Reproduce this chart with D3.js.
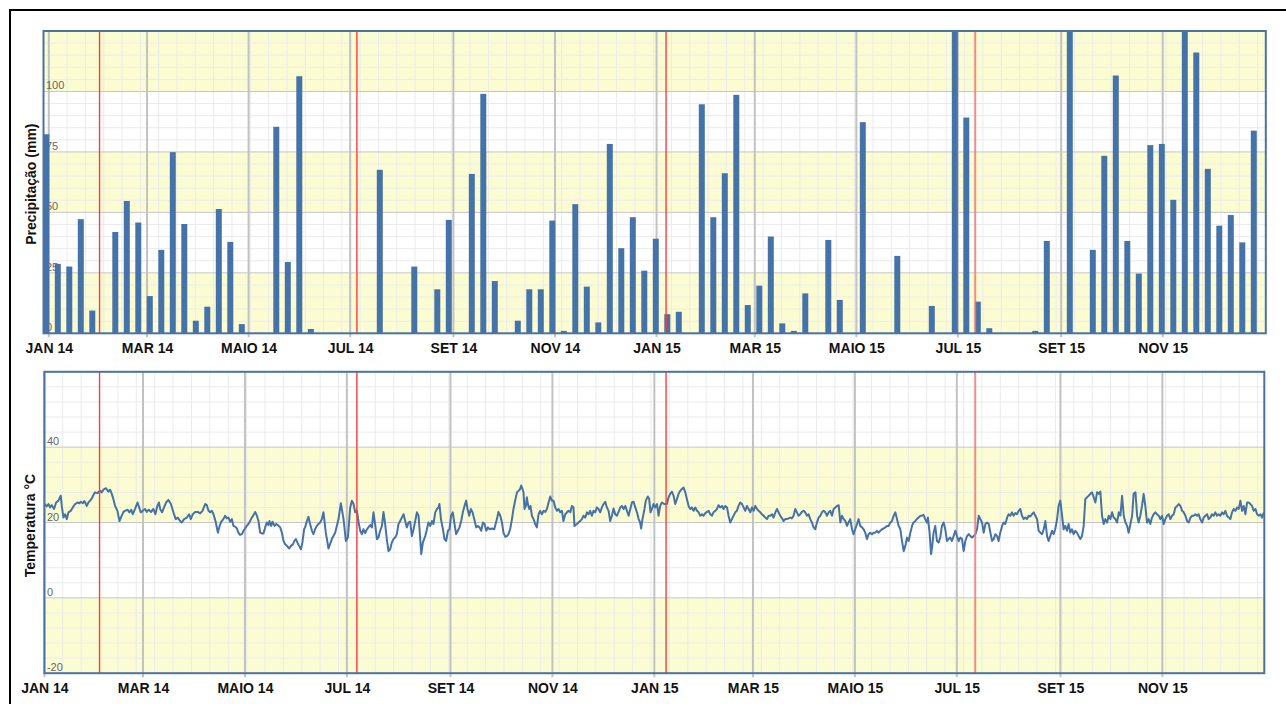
<!DOCTYPE html>
<html><head><meta charset="utf-8">
<script src="https://cdn.jsdelivr.net/npm/d3@7"></script>
<style>
html,body{margin:0;padding:0;background:#fff;}
svg{display:block;font-family:"Liberation Sans",Arial,Helvetica,sans-serif;}
</style></head><body>
<svg id="chart" width="1286" height="704"></svg>
<script>
// ---------------- DATA ----------------
const monthTickDates = ["2014-01-01","2014-03-01","2014-05-01","2014-07-01","2014-09-01","2014-11-01","2015-01-01","2015-03-01","2015-05-01","2015-07-01","2015-09-01","2015-11-01"];
const monthTickLabels = ["JAN 14","MAR 14","MAIO 14","JUL 14","SET 14","NOV 14","JAN 15","MAR 15","MAIO 15","JUL 15","SET 15","NOV 15"];
const eventDates = ["2014-02-03","2014-07-07","2015-01-08","2015-07-12"];
const precipTicks = [0,25,50,75,100];
const tempTicks = [-20,0,20,40];
const precipTitle = "Precipitação (mm)";
const tempTitle = "Temperatura °C";

// weekly precipitation totals (mm), one per bar, left to right
const precipValues = [
 82.3,28.7,27.6,47.2,9.4,0,41.9,54.7,45.8,15.4,
 34.5,74.9,45.2,5.2,11.0,51.4,37.8,3.8,0,0,
 85.4,29.5,106.3,1.8,0,0,0,0,0,67.6,
 0,0,27.6,0,18.2,46.9,0,65.9,99.0,21.6,
 0,5.2,18.2,18.2,46.6,1.0,53.4,19.3,4.5,78.3,
 35.2,48.0,25.9,39.1,7.9,8.9,0,94.7,48.0,66.2,
 98.6,11.7,19.7,40.0,4.1,1.0,16.5,0,38.6,13.8,
 0,87.3,0,0,32.0,0,0,11.3,0,140,
 89.2,13.1,2.1,0,0,0,1.0,38.2,0,140,
 0,34.5,73.4,106.6,38.2,24.7,77.8,78.3,55.2,140,
 116.1,68.0,44.5,48.9,37.6,83.8
];

// temperature: [days since 2014-01-01, °C]
const tempSeries = [
[0,24.9],[1.4,24.3],[2.4,24.9],[3.4,24.0],[4.4,24.6],[5.8,23.6],[7.0,25.3],[8.4,25.8],[9.8,27.1],[10.4,24.4],[11.4,21.3],[12.4,22.2],[13.4,20.9],[14.4,22.7],[15.8,23.1],[17.0,24.0],[18.4,24.9],[19.8,25.3],[20.9,25.1],[21.8,25.5],[23.0,25.1],[23.9,25.7],[25.4,24.4],[26.3,25.3],[27.4,25.8],[28.4,26.4],[29.3,27.3],[30.3,28.0],[31.7,27.8],[33.3,28.4],[34.4,28.0],[35.3,28.7],[36.9,29.1],[38.3,28.2],[39.3,28.7],[40.3,27.6],[41.3,26.2],[42.3,24.4],[43.7,23.1],[44.9,20.4],[46.3,21.8],[47.3,22.8],[48.3,23.1],[49.7,23.4],[50.9,22.7],[51.9,23.4],[52.9,22.2],[54.3,23.7],[55.7,25.3],[56.7,24.0],[57.7,22.7],[58.9,23.1],[60.3,23.6],[61.3,22.8],[62.5,23.4],[63.9,22.8],[65.2,23.6],[66.4,22.2],[67.6,24.4],[68.5,25.3],[69.3,23.6],[70.4,22.7],[71.6,24.0],[72.8,25.3],[74.2,26.0],[75.7,24.9],[77.2,22.7],[78.6,20.9],[79.8,21.3],[81.2,20.4],[82.2,20.0],[83.6,20.9],[85.2,21.3],[86.6,22.2],[87.6,20.9],[88.8,22.2],[90.2,22.8],
[91.8,22.8],[93.2,22.4],[94.6,23.1],[96.2,24.9],[97.2,24.6],[98.2,23.1],[99.2,22.7],[100.2,23.1],[101.2,22.2],[102.6,20.0],[103.8,17.3],[104.6,18.7],[105.8,20.2],[107.1,20.9],[108.2,21.8],[109.2,21.1],[110.1,21.3],[111.2,20.2],[112.2,20.9],[113.1,19.1],[114.1,18.9],[115.2,18.4],[116.1,17.3],[117.1,16.7],[118.2,16.9],[119.1,17.8],[120.1,18.4],[121.1,19.1],[122.1,19.6],[123.1,20.4],[124.1,21.3],[125.1,21.9],[126.1,22.8],[127.1,21.9],[128.1,20.4],[129.1,17.3],[130.1,17.1],[131.1,17.1],[132.1,18.7],[133.1,20.0],[134.1,19.3],[134.7,20.4],[135.7,19.1],[136.5,20.2],[137.7,19.1],[138.7,19.6],[139.7,19.3],[141.1,18.7],[142.1,17.3],[143.1,15.1],[144.1,14.2],[145.1,13.8],[146.5,13.1],[147.5,13.8],[148.7,14.2],[149.6,15.1],[150.5,15.6],[151.4,14.7],[152.4,13.8],[153.5,12.9],[154.4,14.7],[155.4,18.2],[156.0,18.7],[157.1,20.4],[158.0,21.5],[159.0,19.6],[160.1,17.8],[161.0,16.9],[162.0,18.2],[163.0,19.1],[164.0,19.6],[165.0,20.0],[166.0,20.9],[167.0,22.7],[168.4,17.3],[170.0,13.1],[172.0,15.6],[174.0,17.3],[176.0,20.9],[177.4,25.1],[179.0,20.9],[180.4,15.1],[181.6,16.0],[183.0,24.0],
[184.0,25.8],[185.0,24.9],[186.0,22.7],[187.0,23.1],[188.0,20.0],[189.0,17.8],[190.0,16.9],[190.9,18.2],[192.0,17.2],[193.0,18.2],[193.9,18.7],[195.0,19.3],[196.0,18.7],[196.9,22.7],[197.9,19.6],[199.0,15.6],[199.9,16.0],[200.9,17.8],[202.0,19.1],[202.9,22.8],[203.9,19.6],[204.9,15.6],[205.9,12.4],[206.9,12.9],[207.9,14.7],[208.9,15.6],[209.9,16.0],[210.9,16.9],[211.9,19.6],[212.9,20.4],[213.9,21.3],[214.9,22.2],[215.9,20.4],[216.9,18.7],[217.9,20.0],[218.9,20.2],[219.9,16.4],[220.9,18.2],[221.9,20.4],[222.9,22.7],[223.9,21.8],[224.9,15.6],[225.5,11.6],[226.5,14.7],[227.9,16.4],[228.9,18.2],[229.8,20.0],[230.9,19.1],[231.9,20.4],[232.8,19.6],[233.9,22.7],[234.9,23.6],[235.8,24.0],[236.4,24.9],[237.3,20.9],[238.5,18.2],[239.4,15.6],[240.4,15.1],[241.5,17.8],[242.4,18.2],[243.4,21.8],[244.4,22.7],[245.4,19.6],[246.4,16.9],[247.4,17.8],[248.4,18.7],[249.4,20.4],[250.4,22.7],[251.4,24.4],[252.4,25.8],[253.2,23.6],[254.2,21.8],[255.2,23.6],[256.2,22.7],[257.2,20.9],[258.4,18.7],[259.4,19.1],[260.4,18.7],[261.4,17.8],[262.4,20.0],[263.4,19.6],[264.4,17.8],[265.4,18.7],[266.4,18.2],[267.8,18.4],[269.2,18.2],[270.8,20.9],[271.7,22.8],[272.8,21.8],[273.8,20.0],[274.7,17.3],[275.8,16.2],[276.8,16.4],[277.7,16.9],
[278.7,18.2],[279.8,20.9],[280.7,23.6],[281.7,25.8],[282.8,28.0],[283.7,28.4],[284.7,28.9],[285.3,29.8],[286.1,28.9],[286.7,28.0],[287.3,23.6],[288.1,24.4],[288.7,26.7],[289.3,24.9],[290.1,23.6],[290.9,24.4],[291.7,21.8],[292.7,20.9],[293.7,19.6],[294.7,18.7],[295.7,22.2],[296.7,23.1],[297.7,22.2],[298.7,23.1],[299.7,22.8],[300.7,23.6],[301.7,25.3],[302.7,26.9],[303.7,25.8],[304.7,25.8],[305.7,24.0],[306.7,23.1],[307.7,23.6],[308.7,22.7],[309.7,23.1],[310.6,20.4],[311.7,22.2],[312.7,22.7],[313.6,23.1],[314.7,22.7],[315.7,24.4],[316.6,24.0],[317.2,19.1],[318.7,19.6],[319.6,20.0],[320.6,20.4],[321.7,20.9],[322.6,21.8],[323.6,21.3],[324.7,22.7],[325.6,22.2],[326.6,23.1],[327.6,21.8],[328.6,23.1],[329.6,22.7],[330.6,24.0],[331.6,23.6],[332.6,22.7],[333.6,24.0],[334.6,24.9],[335.6,25.5],[336.6,24.0],[337.6,23.1],[338.6,20.4],[339.6,21.8],[340.6,23.7],[341.6,22.2],[342.6,21.8],[343.6,22.8],[344.6,24.0],[345.6,24.4],[346.6,23.6],[347.6,24.4],[348.6,23.1],[349.6,21.8],[350.6,23.6],[351.6,25.3],[352.6,25.5],[353.6,24.0],[354.6,22.7],[355.6,20.9],[356.5,20.0],[357.1,18.4],[357.9,20.9],[359.1,23.6],[359.9,25.8],[361.1,26.9],[361.9,26.2],[362.7,22.7],[363.6,23.6],[364.5,24.9],[365.5,24.0],[366.6,24.9],[367.5,21.8],[368.5,24.4],[369.5,25.3],[371.1,24.9],
[372.5,24.9],[373.5,26.7],[374.5,27.6],[375.5,28.2],[376.5,27.1],[377.5,24.9],[378.5,26.2],[379.5,27.6],[380.5,28.4],[381.5,28.9],[382.5,29.3],[383.5,28.0],[384.5,26.2],[385.5,24.4],[386.5,23.6],[387.5,24.0],[388.5,23.1],[389.5,24.0],[390.5,23.1],[391.5,22.7],[392.5,21.8],[393.5,22.2],[394.4,21.8],[395.5,22.5],[396.5,22.8],[397.4,23.1],[398.5,22.2],[399.5,21.8],[400.4,22.7],[401.5,23.1],[402.5,23.6],[403.4,24.6],[404.4,24.0],[405.5,24.4],[406.4,23.6],[407.4,24.4],[408.5,24.0],[409.4,21.8],[410.4,20.0],[411.4,20.9],[412.4,21.8],[413.4,22.7],[414.4,23.1],[415.4,24.4],[416.4,25.3],[417.4,24.9],[418.4,24.0],[419.4,23.1],[420.4,24.4],[421.4,23.6],[422.4,22.7],[423.4,24.0],[424.4,23.1],[425.4,24.4],[426.4,23.6],[427.4,23.1],[428.4,22.7],[429.4,22.2],[430.4,21.8],[431.4,21.3],[432.4,20.9],[433.4,21.8],[434.4,21.8],[435.4,22.2],[436.3,21.3],[437.4,22.7],[438.4,23.6],[439.3,22.7],[440.4,21.8],[441.4,21.1],[442.3,20.4],[443.3,20.9],[444.3,20.9],[445.3,21.1],[446.3,21.3],[447.3,21.1],[448.3,21.8],[449.3,23.6],[450.3,22.7],[451.3,21.8],[452.3,22.2],[453.3,22.8],[454.3,23.1],[455.3,22.7],[456.3,21.8],[457.3,22.2],[458.3,20.9],[459.3,20.0],[460.3,18.7],[461.3,18.2],[462.3,20.0],[463.3,21.3],[464.3,21.8],[465.3,22.7],[466.3,23.1],[467.3,22.7],[468.3,21.8],[469.3,22.7],[470.3,23.1],[471.3,21.8],[472.3,23.6],[473.3,24.0],[474.3,24.4],[475.3,24.6],[476.3,20.0],[477.3,21.8],[478.3,20.9],[479.3,20.4],[480.3,19.1],[481.2,20.0],[482.2,20.9],[483.3,18.2],[484.2,16.9],[485.2,18.2],[486.3,19.6],[487.2,20.9],[488.2,19.1],[489.3,18.7],[490.2,18.2],[491.2,17.3],[492.2,15.6],[493.2,16.9],[494.2,17.3],[495.2,16.9],[496.2,17.3],[497.2,17.3],[498.2,17.8],[499.2,17.3],[500.2,17.8],[501.2,18.2],[502.2,18.4],[503.2,18.7],[504.2,19.1],[505.2,19.1],[506.2,20.0],[507.2,20.4],[508.2,21.8],[509.2,22.7],[510.2,20.9],[511.2,19.1],[512.2,18.2],[513.2,15.1],[514.2,12.4],[515.2,13.8],[516.2,16.0],[517.2,15.1],[518.2,17.3],[519.2,19.1],[520.1,20.0],[521.2,20.4],[522.1,20.9],[523.1,21.3],[524.2,21.8],[525.2,21.8],[526.1,22.0],[527.1,20.9],[528.1,20.0],[528.7,21.3],[529.7,17.3],[530.6,11.6],[531.3,13.8],[532.1,17.3],[533.1,19.1],[534.1,15.1],[535.1,14.7],[536.1,16.0],[537.1,19.1],[538.1,20.0],[539.1,18.2],[540.1,15.1],[541.1,15.6],[542.1,16.0],[543.1,15.1],[544.1,16.4],[545.1,17.8],[546.1,16.4],[547.1,15.1],[548.1,16.0],
[549.1,15.6],[550.1,12.4],[551.1,15.1],[552.1,16.4],[553.1,16.9],[554.1,16.4],[555.1,16.0],[556.1,16.4],[557.1,16.9],[558.1,18.2],[559.1,21.8],[560.1,20.9],[561.1,20.0],[562.1,17.3],[563.1,19.6],[564.1,20.0],[565.1,19.6],[566.1,17.3],[567.1,15.1],[568.0,15.6],[569.1,16.9],[570.1,16.4],[571.0,15.1],[572.0,17.3],[573.1,19.1],[574.0,20.0],[575.0,19.6],[576.1,21.3],[577.0,22.2],[578.0,21.8],[579.0,22.7],[580.0,21.8],[581.0,22.5],[582.0,22.2],[583.0,23.1],[584.0,23.6],[585.0,21.8],[586.0,20.9],[587.0,21.3],[588.0,20.9],[589.0,21.8],[590.0,21.6],[591.0,22.2],[592.0,22.7],[593.0,21.8],[594.0,20.9],[595.0,17.8],[596.0,17.3],[597.0,16.9],[598.0,18.2],[599.0,20.4],[600.0,16.4],[600.9,15.1],[601.9,16.4],[603.0,17.8],[603.9,16.9],[604.9,18.2],[606.0,20.9],[606.9,24.4],[607.9,25.8],[609.0,21.8],[609.9,18.2],[610.9,19.1],[611.9,17.8],[612.9,19.6],[613.9,17.3],[614.9,18.2],[615.9,16.9],[616.9,17.8],[617.9,17.3],[618.9,16.4],[619.9,15.6],[620.9,16.4],[621.9,19.1],[622.9,26.2],[623.9,26.7],[624.9,27.1],[625.9,27.6],[626.9,28.0],[627.9,26.7],[628.9,25.3],[629.9,28.0],[630.9,27.6],[631.9,28.2],[632.9,21.8],[633.9,19.6],[634.9,20.9],[635.9,20.0],[636.9,21.8],[637.9,20.9],[638.9,22.7],[639.9,21.3],[640.9,20.9],[641.9,20.0],[642.9,22.7],[643.9,21.8],[644.9,27.1],[645.9,21.8],[646.9,20.0],[647.9,19.1],[648.8,17.3],[649.9,19.6],[650.9,21.8],[651.8,27.6],[652.9,28.0],[653.9,21.8],[654.8,20.0],[655.8,21.8],[656.8,24.4],[657.8,27.6],[658.8,24.4],[659.8,20.0],[660.8,20.9],[661.8,19.6],[662.8,21.3],[663.8,22.2],[664.8,22.7],[665.8,22.2],[666.8,21.8],[667.8,20.9],[668.8,21.8],[669.8,19.6],[670.8,20.9],[671.8,21.8],[672.8,22.2],[673.8,20.9],[674.8,21.8],[675.8,22.2],[676.8,24.0],[677.8,24.4],[678.8,24.9],[679.8,24.4],[680.8,23.1],[681.8,22.7],[682.8,21.8],[683.8,20.4],[684.8,20.0],[685.8,21.3],[686.8,21.8],[687.7,21.8],[688.8,22.2],[689.8,21.8],[690.7,22.2],[691.7,20.9],[692.8,20.0],[693.7,21.3],[694.7,21.8],[695.8,22.2],[696.7,20.9],[697.7,21.3],[698.7,22.2],[699.7,21.8],[700.7,22.7],[701.7,21.8],[702.7,22.2],[703.7,21.8],[704.7,22.7],[705.7,22.2],[706.7,23.1],[707.7,21.8],[708.7,21.3],[709.7,20.9],[710.7,22.7],[711.7,23.6],[712.7,23.1],[713.7,24.0],[714.7,23.6],[715.7,25.8],[716.7,23.1],[717.7,24.4],[718.7,22.2],[719.7,25.3],[720.6,25.3],[721.7,24.9],[722.7,24.4],[723.6,23.1],[724.7,23.6],[725.7,22.2],[726.7,21.8],[727.7,22.2],[728.7,21.3],[729.6,22.5],[730,22.7]
];

// ---------------- LAYOUT / STYLE ----------------
const COL = {bar:"#4572A7", line:"#4572A7", band:"#fcfcd2", minor:"#ebebeb", major:"#c6c6c6", vmajor:"#c2c2c2", border:"#4a72a4", red:"#ff3b3b", label:"#666"};
const P = {l:43.5, t:31, r:1265.8, b:333.3};   // precipitation plot box
const T = {l:44.4, t:371.8, r:1264.3, b:673.2}; // temperature plot box

const parse = d3.utcParse("%Y-%m-%d");
const start = parse("2014-01-01"), end = parse("2016-01-01");
const tickDates = monthTickDates.map(parse);
const events = eventDates.map(parse);
const dayToDate = d => new Date(start.getTime() + d*864e5);
const minorDates = d3.range(11, 730, 11).map(d => d3.utcDay.offset(start, d));

const yP = d3.scaleLinear().domain([0,125]).range([P.b, P.t]);
const yT = d3.scaleLinear().domain([-20,60]).range([T.b, T.t]);
const xT = d3.scaleUtc().domain([start,end]).range([T.l, T.r]);
const xP = d3.scaleUtc().domain([start,end]).range([P.l+5.3, P.r-1.5]);
const xB = d3.scaleBand().domain(d3.range(precipValues.length))
  .range([P.l-2.95, P.r-6.25]).paddingInner(0.48).paddingOuter(0.24);

const svg = d3.select("#chart");
svg.append("rect").attr("width",1286).attr("height",704).attr("fill","#fff");
svg.append("rect").attr("x",10).attr("y",10).attr("width",1290).attr("height",700)
  .attr("fill","none").attr("stroke","#000").attr("stroke-width",2);

const defs = svg.append("defs");
function clip(id, box){
  defs.append("clipPath").attr("id",id).append("rect")
    .attr("x",box.l).attr("y",box.t).attr("width",box.r-box.l).attr("height",box.b-box.t);
}
clip("clipP", P); clip("clipT", T);

function panel(box, y, bandStep, minorStep, majorTicks, xTime, clipId){
  const g = svg.append("g");
  const [y0,y1] = y.domain();
  g.append("g").selectAll("rect").data(d3.range(y0, y1, bandStep)).join("rect")
    .attr("x", box.l).attr("width", box.r-box.l)
    .attr("y", v => y(v+bandStep)).attr("height", v => y(v)-y(v+bandStep))
    .attr("fill", (v,i) => i%2===0 ? COL.band : "#fff");
  const gc = g.append("g").attr("clip-path", `url(#${clipId})`);
  gc.append("g").selectAll("line").data(d3.range(y0, y1, minorStep).filter(v => (v - y0) % bandStep !== 0)).join("line")
    .attr("x1", box.l).attr("x2", box.r).attr("y1", v => y(v)).attr("y2", v => y(v))
    .attr("stroke", COL.minor).attr("stroke-width",1);
  gc.append("g").selectAll("line").data(minorDates).join("line")
    .attr("x1", d => xTime(d)).attr("x2", d => xTime(d)).attr("y1", box.t).attr("y2", box.b)
    .attr("stroke", COL.minor).attr("stroke-width",1);
  g.append("g").selectAll("line").data(majorTicks.filter(v => v > y0)).join("line")
    .attr("x1", box.l).attr("x2", box.r).attr("y1", v => y(v)).attr("y2", v => y(v))
    .attr("stroke", COL.major).attr("stroke-width",1);
  g.append("g").selectAll("line").data(tickDates).join("line")
    .attr("x1", d => xTime(d)).attr("x2", d => xTime(d)).attr("y1", box.t).attr("y2", box.b+4)
    .attr("stroke", COL.vmajor).attr("stroke-width",2);
  g.append("g").selectAll("text").data(majorTicks).join("text")
    .attr("x", box.l+2.5).attr("y", v => y(v)-2)
    .attr("font-size", 11).attr("fill", COL.label)
    .text(v => v);
  const ax = d3.axisBottom(xTime).tickValues(tickDates)
    .tickFormat((d,i) => monthTickLabels[i]).tickSize(0).tickPadding(9.5);
  const ag = g.append("g").attr("transform", `translate(0,${box.b})`).call(ax);
  ag.select(".domain").remove();
  ag.selectAll(".tick line").remove();
  ag.selectAll("text").attr("font-size", 14).attr("font-weight","bold")
    .attr("fill","#111").attr("font-family",'"Liberation Sans",Arial,sans-serif');
  return g;
}

// ---------- precipitation ----------
const gP = panel(P, yP, 25, 5, precipTicks, xP, "clipP");
gP.append("g").attr("clip-path","url(#clipP)")
  .selectAll("rect").data(precipValues).join("rect")
  .attr("x", (v,i) => xB(i)).attr("width", xB.bandwidth())
  .attr("y", v => yP(v)).attr("height", v => yP(0) - yP(v))
  .attr("fill", COL.bar);

// ---------- temperature ----------
const gT = panel(T, yT, 20, 4, tempTicks, xT, "clipT");
const line = d3.line().x(d => xT(dayToDate(d[0]))).y(d => yT(d[1]));
gT.append("path").datum(tempSeries).attr("clip-path","url(#clipT)")
  .attr("d", line).attr("fill","none").attr("stroke", COL.line)
  .attr("stroke-width", 2).attr("stroke-linejoin","round");

// ---------- event markers (red bands, same positions in both panels) ----------
[[P,gP],[T,gT]].forEach(([box,g]) => {
  const ge = g.append("g").attr("class","events");
  events.forEach((d,i) => {
    const last = i === events.length-1;
    const w = last ? 2 : 1.4;
    ge.append("rect")
      .attr("x", xT(d) - w/2).attr("width", w)
      .attr("y", box.t).attr("height", box.b - box.t)
      .attr("fill", last ? "#f27878" : COL.red)
      .attr("fill-opacity", last ? 0.85 : 1);
  });
  g.append("rect").attr("x",box.l).attr("y",box.t).attr("width",box.r-box.l).attr("height",box.b-box.t)
    .attr("fill","none").attr("stroke",COL.border).attr("stroke-width",2);
});

// ---------- axis titles ----------
svg.append("text").attr("transform",`translate(35.5,${(P.t+P.b)/2+2}) rotate(-90)`)
  .attr("text-anchor","middle").attr("font-size",14).attr("font-weight","bold").attr("fill","#111")
  .text(precipTitle);
svg.append("text").attr("transform",`translate(35,${(T.t+T.b)/2+3}) rotate(-90)`)
  .attr("text-anchor","middle").attr("font-size",14).attr("font-weight","bold").attr("fill","#111")
  .text(tempTitle);
</script>
</body></html>
